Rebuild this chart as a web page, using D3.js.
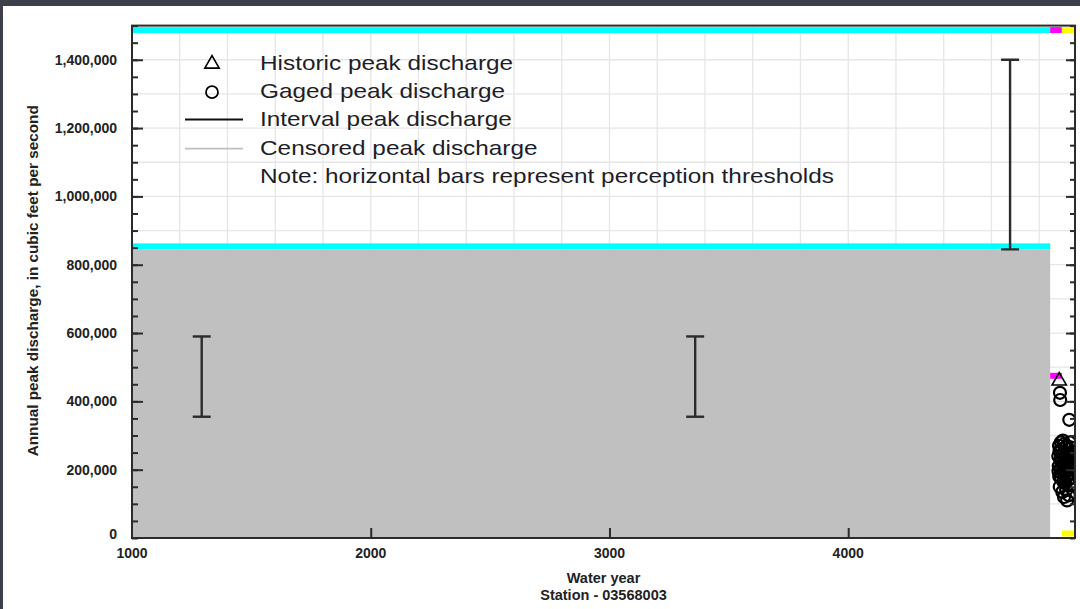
<!DOCTYPE html>
<html>
<head>
<meta charset="utf-8">
<script src="https://cdn.jsdelivr.net/npm/d3@7"></script>
<style>
  html, body { margin: 0; padding: 0; background: #ffffff; }
  svg { display: block; }
  text { font-family: "Liberation Sans", Arial, sans-serif; }
</style>
</head>
<body>
<svg id="chart" width="1080" height="609"></svg>
<script>
// ---------------- data ----------------
const xDomain = [1000, 4950];
const yDomain = [0, 1500000];
const xTickValues = [1000, 2000, 3000, 4000];
const yTickValues = [0, 200000, 400000, 600000, 800000, 1000000, 1200000, 1400000];

// perception thresholds: start year, end year, lower bound, colour
const thresholdStart = [1000, 4846, 4895];
const thresholdEnd   = [4846, 4895, 4950];
const thresholdLow   = [845000, 466000, 0];
const thresholdColor = ["#00ffff", "#ff00ff", "#ffff00"];

// censored period (grey)
const censoredStart = [1000];
const censoredEnd   = [4846];
const censoredUpper = [845000];

// interval peak discharges
const intervalYear  = [1292, 3359, 4678];
const intervalLow   = [355000, 355000, 845000];
const intervalHigh  = [590000, 590000, 1400000];

// historic peak
const historicYear  = [4884];
const historicValue = [460000];

// gaged peaks
const gagedYears = [4880,4881,4882,4883,4884,4885,4886,4887,4888,4889,4890,4891,4892,4893,4894,4895,4896,4897,4898,4899,
  4900,4901,4902,4903,4904,4905,4906,4907,4908,4909,4910,4911,4912,4913,4914,4915,4916,4917,4918,4919,
  4920,4921,4922,4923,4924,4925,4926,4927,4928,4929,4930,4931,4932,4933,4934,4935];
const gagedValues = [240000,195000,210000,270000,180000,255000,150000,425000,404000,230000,
  205000,280000,175000,225000,260000,190000,245000,135000,215000,285000,
  200000,165000,250000,220000,120000,275000,185000,235000,210000,160000,
  265000,195000,240000,140000,225000,270000,180000,110000,250000,205000,
  230000,170000,260000,215000,125000,245000,346000,190000,280000,220000,
  155000,235000,200000,265000,175000,240000];

const legendLabels = ["Historic peak discharge", "Gaged peak discharge", "Interval peak discharge",
  "Censored peak discharge", "Note: horizontal bars represent perception thresholds"];
const xTitle = ["Water year", "Station - 03568003"];
const yTitle = "Annual peak discharge, in cubic feet per second";

// ---------------- layout ----------------
const svg = d3.select("#chart");
const W = 1080, H = 609;
const plot = { left: 132, right: 1075, top: 25.6, bottom: 538 };

// screenshot chrome
svg.append("rect").attr("x", 0).attr("y", 0).attr("width", W).attr("height", 6).attr("fill", "#3d4048");
svg.append("rect").attr("x", 0).attr("y", 0).attr("width", 3).attr("height", H).attr("fill", "#3d4048");

const x = d3.scaleLinear().domain(xDomain).range([plot.left, plot.right]);
const y = d3.scaleLinear().domain(yDomain).range([plot.bottom, plot.top]);

svg.append("defs").append("clipPath").attr("id", "clip")
  .append("rect").attr("x", plot.left).attr("y", plot.top)
  .attr("width", plot.right - plot.left).attr("height", plot.bottom - plot.top);

const g = svg.append("g").attr("clip-path", "url(#clip)");

// gridlines
g.append("g").selectAll("line").data(d3.range(1200, 4950, 200)).join("line")
  .attr("x1", d => x(d)).attr("x2", d => x(d))
  .attr("y1", plot.top).attr("y2", plot.bottom)
  .attr("stroke", "#e6e6e6").attr("stroke-width", 1.3);
g.append("g").selectAll("line").data(d3.range(100000, 1500000, 100000)).join("line")
  .attr("x1", plot.left).attr("x2", plot.right)
  .attr("y1", d => y(d)).attr("y2", d => y(d))
  .attr("stroke", "#e6e6e6").attr("stroke-width", 1.3);

// censored region
g.append("g").selectAll("rect").data(censoredStart.map((s, i) => i)).join("rect")
  .attr("x", i => x(censoredStart[i]))
  .attr("width", i => x(censoredEnd[i]) - x(censoredStart[i]))
  .attr("y", i => y(censoredUpper[i]))
  .attr("height", i => y(0) - y(censoredUpper[i]))
  .attr("fill", "#c0c0c0");

// perception thresholds
const thr = thresholdStart.map((s, i) => i);
const barH = 6;
g.append("g").selectAll("rect").data(thr).join("rect")
  .attr("x", i => x(thresholdStart[i]))
  .attr("width", i => x(thresholdEnd[i]) - x(thresholdStart[i]))
  .attr("y", i => y(thresholdLow[i]) - barH - (thresholdLow[i] === 0 ? 1.5 : 0))
  .attr("height", barH)
  .attr("fill", i => thresholdColor[i]);
g.append("g").selectAll("rect").data(thr).join("rect")
  .attr("x", i => x(thresholdStart[i]))
  .attr("width", i => x(thresholdEnd[i]) - x(thresholdStart[i]))
  .attr("y", y(yDomain[1]) + 1.5)
  .attr("height", barH)
  .attr("fill", i => thresholdColor[i]);

// interval bars
const iv = g.append("g").attr("stroke", "#2b2b2b").attr("stroke-width", 2.4);
intervalYear.forEach((yr, i) => {
  iv.append("line").attr("x1", x(yr)).attr("x2", x(yr)).attr("y1", y(intervalLow[i])).attr("y2", y(intervalHigh[i]));
  iv.append("line").attr("x1", x(yr) - 9).attr("x2", x(yr) + 9).attr("y1", y(intervalLow[i])).attr("y2", y(intervalLow[i]));
  iv.append("line").attr("x1", x(yr) - 9).attr("x2", x(yr) + 9).attr("y1", y(intervalHigh[i])).attr("y2", y(intervalHigh[i]));
});

// gaged points
g.append("g").selectAll("circle").data(gagedYears.map((d, i) => i)).join("circle")
  .attr("cx", i => x(gagedYears[i])).attr("cy", i => y(gagedValues[i])).attr("r", 6)
  .attr("fill", "none").attr("stroke", "#000").attr("stroke-width", 2.2);

// historic points
const tri = d3.symbol().type(d3.symbolTriangle).size(90);
g.append("g").selectAll("path").data(historicYear.map((d, i) => i)).join("path")
  .attr("d", tri)
  .attr("transform", i => `translate(${x(historicYear[i])},${y(historicValue[i])})`)
  .attr("fill", "none").attr("stroke", "#000").attr("stroke-width", 1.6);

// frame
svg.append("rect").attr("x", plot.left).attr("y", plot.top)
  .attr("width", plot.right - plot.left).attr("height", plot.bottom - plot.top)
  .attr("fill", "none").attr("stroke", "#2b2b2b").attr("stroke-width", 2);

// axes
const axisColor = "#2b2b2b";
function styleAxis(sel) {
  sel.select(".domain").remove();
  sel.selectAll(".tick line").attr("stroke", axisColor).attr("stroke-width", 2);
}
// left
const yMinor = d3.range(0, 1500001, 50000);
const leftAx = svg.append("g").attr("transform", `translate(${plot.left},0)`)
  .call(d3.axisRight(y).tickValues(yMinor).tickSize(6).tickFormat(""));
styleAxis(leftAx);
const leftMaj = svg.append("g").attr("transform", `translate(${plot.left},0)`)
  .call(d3.axisRight(y).tickValues(yTickValues.slice(1)).tickSize(11).tickFormat(""));
styleAxis(leftMaj);
// right
const rightAx = svg.append("g").attr("transform", `translate(${plot.right},0)`)
  .call(d3.axisLeft(y).tickValues(yMinor).tickSize(5).tickFormat(""));
styleAxis(rightAx);
const rightMaj = svg.append("g").attr("transform", `translate(${plot.right},0)`)
  .call(d3.axisLeft(y).tickValues(yTickValues.slice(1)).tickSize(9).tickFormat(""));
styleAxis(rightMaj);
// y tick labels
const fmt = d3.format(",");
svg.append("g").selectAll("text").data(yTickValues).join("text")
  .attr("x", 117).attr("y", d => y(d)).attr("dy", d => d === 0 ? "0.1em" : "0.36em")
  .attr("text-anchor", "end").attr("font-size", 14).attr("font-weight", "bold")
  .attr("fill", "#222").text(d => fmt(d));
// bottom
const botAx = svg.append("g").attr("transform", `translate(0,${plot.bottom})`)
  .call(d3.axisTop(x).tickValues(xTickValues.slice(1)).tickSize(10).tickFormat(""));
styleAxis(botAx);
svg.append("g").selectAll("text").data(xTickValues).join("text")
  .attr("x", d => x(d)).attr("y", 558)
  .attr("text-anchor", "middle").attr("font-size", 14).attr("font-weight", "bold")
  .attr("fill", "#222").text(d => d);

// axis titles
svg.append("g").selectAll("text").data(xTitle).join("text")
  .attr("x", (plot.left + plot.right) / 2).attr("y", (d, i) => 583 + i * 17)
  .attr("text-anchor", "middle").attr("font-size", 14.5).attr("font-weight", "bold")
  .attr("fill", "#222").text(d => d);
svg.append("text")
  .attr("transform", `translate(38,${(plot.top + plot.bottom) / 2 - 1}) rotate(-90)`)
  .attr("text-anchor", "middle").attr("font-size", 15.3).attr("font-weight", "bold")
  .attr("fill", "#222").text(yTitle);

// legend
const leg = svg.append("g");
const legBase = 70, legStep = 28.2;
leg.append("path").attr("d", d3.symbol().type(d3.symbolTriangle).size(90))
  .attr("transform", `translate(212,${legBase - 6})`)
  .attr("fill", "none").attr("stroke", "#000").attr("stroke-width", 1.6);
leg.append("circle").attr("cx", 212).attr("cy", legBase + legStep - 6).attr("r", 6)
  .attr("fill", "none").attr("stroke", "#000").attr("stroke-width", 1.8);
leg.append("line").attr("x1", 185).attr("x2", 243).attr("y1", legBase + 2 * legStep - 7).attr("y2", legBase + 2 * legStep - 7)
  .attr("stroke", "#111").attr("stroke-width", 2);
leg.append("line").attr("x1", 185).attr("x2", 243).attr("y1", legBase + 3 * legStep - 6).attr("y2", legBase + 3 * legStep - 6)
  .attr("stroke", "#c0c0c0").attr("stroke-width", 1.6);
const legText = leg.append("g").attr("transform", "translate(260,0) scale(1.16,1)");
legText.selectAll("text").data(legendLabels).join("text")
  .attr("x", 0).attr("y", (d, i) => legBase + i * legStep)
  .attr("font-size", 21).attr("fill", "#1e1e28").text(d => d);
</script>
</body>
</html>
